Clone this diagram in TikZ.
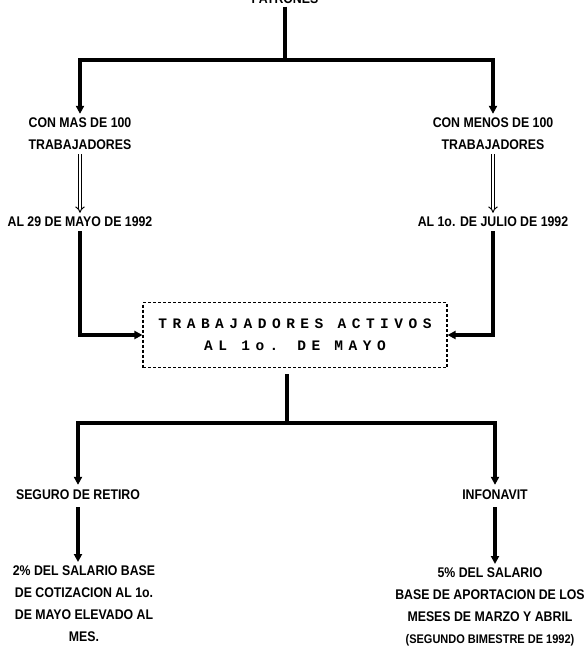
\documentclass[tikz,border=0pt]{standalone}
\usepackage{fontspec}
\usetikzlibrary{arrows.meta,positioning}
\newfontfamily\chartfont[FakeStretch=0.88]{Liberation Sans}
\newfontfamily\boxfont[LetterSpace=38]{Liberation Mono}

\begin{document}
\begin{tikzpicture}[
    x=1pt, y=-1pt,
    font=\chartfont\bfseries\fontsize{14}{22}\selectfont,
    txt/.style={align=center, inner sep=1pt},
    heavy/.style={line width=3.2pt},
    arrow/.style={heavy, -{Triangle[width=8pt,length=8pt]}},
    hollow/.style={double, double distance=2.2pt, line width=1pt, -{Implies}},
    dbox/.style={draw, dash pattern=on 3pt off 2pt, line width=1.1pt, minimum width=304pt, minimum height=65pt, align=center, font=\boxfont\bfseries\fontsize{14.5}{22}\selectfont}
]
    \useasboundingbox (0,0) rectangle (584,656);

    \node[anchor=base] (patrones) at (285,3) {PATRONES};
    \coordinate (topsplit) at (285,60);

    \node[txt] (mas) at (80,134) {CON MAS DE 100\\TRABAJADORES};
    \node[txt] (menos) at (493,134) {CON MENOS DE 100\\TRABAJADORES};
    \node[txt] (fecha1) at (80,222) {AL 29 DE MAYO DE 1992};
    \node[txt] (fecha2) at (493,222) {AL 1o. DE JULIO DE 1992};

    \node[dbox] (activos) at (295,335) {TRABAJADORES ACTIVOS\\AL 1o. DE MAYO};
    \coordinate (botsplit) at (287,423);

    \node[txt] (seguro) at (78,495) {SEGURO DE RETIRO};
    \node[txt] (infonavit) at (495,495) {INFONAVIT};
    \node[txt, anchor=north] (sar) at (84,565) {2\% DEL SALARIO BASE\\DE COTIZACION AL 1o.\\DE MAYO ELEVADO AL\\MES.};
    \node[txt, anchor=north] (aport) at (490,567) {5\% DEL SALARIO\\BASE DE APORTACION DE LOS\\MESES DE MARZO Y ABRIL\\{\fontsize{12.5}{20}\selectfont (SEGUNDO BIMESTRE DE 1992)}};

    % upper branch
    \draw[heavy] (patrones) -- (topsplit);
    \draw[arrow, shorten >=3pt] (topsplit) -| (mas);
    \draw[arrow, shorten >=3pt] (topsplit) -| (menos);
    \draw[hollow, shorten <=3pt, shorten >=3pt] (mas) -- (fecha1);
    \draw[hollow, shorten <=3pt, shorten >=3pt] (menos) -- (fecha2);
    \draw[arrow, shorten <=3pt] (fecha1) |- (activos.west);
    \draw[arrow, shorten <=3pt] (fecha2) |- (activos.east);

    % lower branch
    \draw[heavy, shorten <=6pt] (activos.south -| botsplit) -- (botsplit);
    \draw[arrow, shorten >=4pt] (botsplit) -| (seguro);
    \draw[arrow, shorten >=4pt] (botsplit) -| (infonavit);
    \draw[arrow, shorten <=6pt, shorten >=3pt] (seguro |- seguro.south) -- (seguro |- sar.north);
    \draw[arrow, shorten <=6pt, shorten >=3pt] (infonavit) -- (infonavit |- aport.north);
\end{tikzpicture}
\end{document}
